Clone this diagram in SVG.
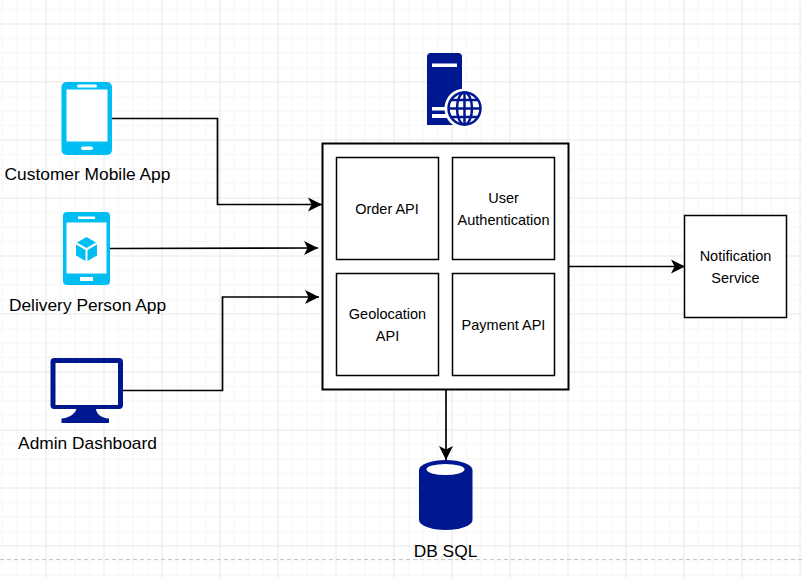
<svg xmlns="http://www.w3.org/2000/svg" width="802" height="578" viewBox="0 0 802 578">
<style>
.t{font-family:"Liberation Sans",Arial,sans-serif;fill:#000;text-anchor:middle}
.s{font-size:14.5px}
.l{font-size:17.35px}
.box{fill:#fff;stroke:#000;stroke-width:1.5}
.c{fill:none;stroke:#000;stroke-width:1.7}
.navy{fill:#00188f}
.cy{fill:#00bef2}
</style>
<defs>
<pattern id="g" x="-12.5" y="23.5" width="58" height="58" patternUnits="userSpaceOnUse">
<path d="M15 0V58M29.500 0V58M44 0V58M0 15H58M0 29.500H58M0 44H58" stroke="#f5f5f5" stroke-width="1" fill="none"/>
<path d="M.5 0V58M0 .5H58" stroke="#e7e7e7" stroke-width="1" fill="none"/>
</pattern>
<marker id="a" markerUnits="userSpaceOnUse" markerWidth="15" markerHeight="16" refX="14" refY="8" orient="auto">
<path d="M0 1L14 8L0 15L3.500 8Z" fill="#000"/>
</marker>
</defs>
<rect width="802" height="578" fill="#fff"/>
<rect width="802" height="578" fill="url(#g)"/>
<path d="M0 559.500H802" stroke="#c8c8c8" stroke-dasharray="4 3" fill="none"/>
<g id="connectors">
<path class="c" d="M112 118.500H217.500V204.500H322" marker-end="url(#a)"/>
<path class="c" d="M110 248.500L318 248" marker-end="url(#a)"/>
<path class="c" d="M123 390.500H222.500V297H319" marker-end="url(#a)"/>
<path class="c" d="M569 266.500H685" marker-end="url(#a)"/>
<path class="c" d="M446 390V460" marker-end="url(#a)"/>
</g>
<g id="server">
<path class="navy" d="M431 53H458Q462 53 462 57V125H427V57Q427 53 431 53Z"/>
<rect x="432" y="63.500" width="25" height="3.500" fill="#fff"/>
<rect x="432" y="107" width="15" height="3.500" fill="#fff"/>
<rect x="432" y="114" width="15" height="4" fill="#fff"/>
<circle cx="464.500" cy="108.500" r="20" fill="#fff"/>
<g fill="none" stroke="#00188f" stroke-width="2.500">
<circle cx="464.500" cy="108.500" r="16"/>
<ellipse cx="464.500" cy="108.500" rx="7.500" ry="16"/>
<path d="M464.500 92.500V124.500M448.500 108.500H480.500M451 100H478M451 117H478"/>
</g>
</g>
<g id="api-gateway"><rect class="box" style="stroke-width:2" x="322.500" y="143.500" width="246" height="246"/></g>
<g id="order-api"><rect class="box" x="336.500" y="157.500" width="102" height="102"/><text class="t s" x="387" y="213.500">Order API</text></g>
<g id="user-auth"><rect class="box" x="452.500" y="157.500" width="102" height="102"/><text class="t s" x="503.500" y="202.500">User</text><text class="t s" x="503.500" y="224.500">Authentication</text></g>
<g id="geolocation-api"><rect class="box" x="336.500" y="273.500" width="102" height="102"/><text class="t s" x="387.500" y="318.500">Geolocation</text><text class="t s" x="387.500" y="340.500">API</text></g>
<g id="payment-api"><rect class="box" x="452.500" y="273.500" width="102" height="102"/><text class="t s" x="503.500" y="329.500">Payment API</text></g>
<g id="notification-service"><rect class="box" x="684.500" y="215.500" width="102" height="102"/><text class="t s" x="735.500" y="260.500">Notification</text><text class="t s" x="735.500" y="282.500">Service</text></g>
<g id="customer-app">
<rect class="cy" x="61.500" y="82" width="50.500" height="73" rx="5"/>
<rect x="66.500" y="89.500" width="41" height="52" fill="#fff"/>
<rect x="77" y="84.500" width="20" height="3" rx="1.500" fill="#fff"/>
<rect x="81" y="146.500" width="12" height="3.500" rx="1.700" fill="#fff"/>
<text class="t l" x="87.500" y="180">Customer Mobile App</text>
</g>
<g id="delivery-app">
<rect class="cy" x="63" y="212" width="47" height="73" rx="4"/>
<rect x="66.500" y="222.500" width="40" height="51" fill="#fff"/>
<rect x="78" y="216.500" width="17" height="2.500" fill="#fff"/>
<rect x="80" y="277" width="13" height="4" fill="#fff"/>
<path class="cy" d="M86.500 237L96 242.500L86.500 248L77 242.500ZM76 244.500L85.500 250V261L76 255.500ZM97 244.500V255.500L87.500 261V250Z"/>
<text class="t l" x="87.500" y="311">Delivery Person App</text>
</g>
<g id="admin-dashboard">
<path class="navy" fill-rule="evenodd" d="M54 358H119Q123 358 123 362V405Q123 409 119 409H96C96.500 414 101 418 109 418.500V423H61.500V418.500C69 418 75 414 76.500 409H54Q50.500 409 50.500 405V362Q50.500 358 54 358ZM55.500 363V405H118V363Z"/>
<text class="t l" x="87.500" y="449">Admin Dashboard</text>
</g>
<g id="db-sql">
<path class="navy" d="M419 470A26.750 10 0 0 1 472.500 470V520A26.750 10 0 0 1 419 520Z"/>
<ellipse cx="445.500" cy="469.500" rx="19" ry="5.500" fill="#fff"/>
<text class="t l" x="445.500" y="557">DB SQL</text>
</g>
</svg>
